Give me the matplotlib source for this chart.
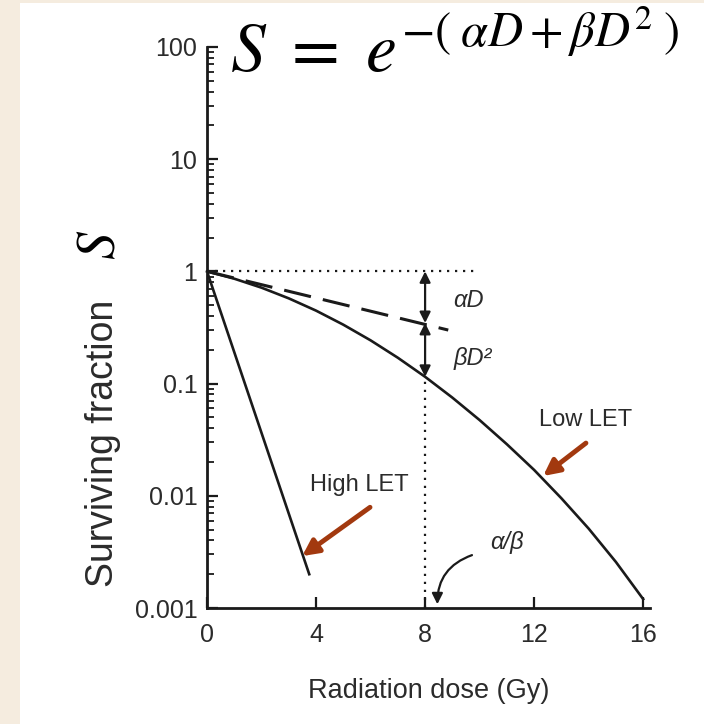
import numpy as np
import matplotlib
matplotlib.use("Agg")
import matplotlib.pyplot as plt
from matplotlib.patches import Rectangle
from matplotlib.ticker import LogLocator, NullFormatter, FixedLocator, FixedFormatter

plt.rcParams['font.family'] = ['Liberation Sans', 'DejaVu Sans']
plt.rcParams['mathtext.fontset'] = 'stix'

# low LET survival curve (dose in Gy, surviving fraction)
dose_low = [0, 1, 2, 3, 4, 5, 6, 7, 8, 9, 10, 11, 12, 13, 14, 15, 16]
surv_low = [1.0, 0.861, 0.716, 0.575, 0.447, 0.335, 0.243, 0.170, 0.115, 0.075,
            0.0473, 0.0288, 0.0170, 0.0095, 0.0051, 0.00257, 0.0012]

# high LET: straight line on the log scale
dose_high = [0, 3.75]
surv_high = [1.0, 0.002]

# single-hit (alpha) component
dose_alpha = [0, 8.85]
surv_alpha = [1.0, 0.30]

ab_dose = 8.0          # alpha/beta ratio
s_alpha_at_ab = 0.347  # dashed line at D = alpha/beta
s_curve_at_ab = 0.115  # curve at D = alpha/beta

yticks = [0.001, 0.01, 0.1, 1, 10, 100]
ytick_labels = ['0.001', '0.01', '0.1', '1', '10', '100']
xticks = [0, 4, 8, 12, 16]

txt = '#2b2b2b'
ink = '#1a1a1a'
brown = '#A2390F'

fig = plt.figure(figsize=(7.04, 7.24), dpi=100)
fig.patch.set_facecolor('white')
fig.add_artist(Rectangle((0, 0), 20 / 704, 1, transform=fig.transFigure,
                         color='#F5ECDF', lw=0, zorder=0))
fig.add_artist(Rectangle((0, 1 - 3 / 724), 1, 3 / 724, transform=fig.transFigure,
                         color='#F5ECDF', lw=0, zorder=0))

ax = fig.add_axes([207 / 704, 1 - 608 / 724, 443 / 704, 561 / 724])
ax.set_yscale('log')
ax.set_xlim(0, 16.25)
ax.set_ylim(0.001, 100)

ax.plot(dose_low, surv_low, color=ink, lw=1.9, solid_joinstyle='round', clip_on=False)
ax.plot(dose_high, surv_high, color=ink, lw=1.9)
ax.plot(dose_alpha, surv_alpha, color=ink, lw=2.2, dashes=(9, 4))
ax.plot([0, 9.95], [1, 1], color=ink, lw=1.6, linestyle=(0, (1, 2.6)))
ax.plot([ab_dose, ab_dose], [0.001, s_curve_at_ab], color=ink, lw=1.6,
        linestyle=(0, (1, 2.6)))

# alpha D and beta D^2 arrows
for y0, y1 in [(1.0, s_alpha_at_ab), (s_alpha_at_ab, s_curve_at_ab)]:
    ax.annotate('', xy=(ab_dose, y1), xytext=(ab_dose, y0),
                arrowprops=dict(arrowstyle='<|-|>', color=ink, lw=1.6,
                                mutation_scale=16, shrinkA=0, shrinkB=0))
ax.text(9.03, 0.556, 'αD', fontsize=17, style='italic', color=txt, va='center', ha='left')
ax.text(9.03, 0.169, 'βD²', fontsize=17, style='italic', color=txt, va='center', ha='left')

ax.text(13.87, 0.0474, 'Low LET', fontsize=17, color=txt, ha='center', va='center')
ax.text(5.58, 0.01247, 'High LET', fontsize=17, color=txt, ha='center', va='center')
ax.text(11.0, 0.00387, 'α/β', fontsize=17, style='italic', color=txt, ha='center', va='center')

ax.annotate('', xy=(12.33, 0.015), xytext=(13.9, 0.0295),
            arrowprops=dict(arrowstyle='-|>', color=brown, lw=3.5,
                            mutation_scale=24, shrinkA=0, shrinkB=0))
ax.annotate('', xy=(3.49, 0.0029), xytext=(5.98, 0.0079),
            arrowprops=dict(arrowstyle='-|>', color=brown, lw=3.5,
                            mutation_scale=24, shrinkA=0, shrinkB=0))
ax.annotate('', xy=(8.45, 0.00108), xytext=(9.72, 0.00296),
            arrowprops=dict(arrowstyle='-|>', color=ink, lw=1.6,
                            mutation_scale=16, shrinkA=0, shrinkB=0,
                            connectionstyle='arc3,rad=0.35'))

for s in ['top', 'right']:
    ax.spines[s].set_visible(False)
for s in ['left', 'bottom']:
    ax.spines[s].set_linewidth(2.0)
    ax.spines[s].set_color(ink)

ax.yaxis.set_major_locator(FixedLocator(yticks))
ax.yaxis.set_major_formatter(FixedFormatter(ytick_labels))
ax.yaxis.set_minor_locator(LogLocator(base=10, subs=np.arange(2, 10)))
ax.yaxis.set_minor_formatter(NullFormatter())
ax.set_xticks(xticks)
ax.tick_params(which='major', direction='in', length=8, width=1.6, color=ink,
               labelsize=18, labelcolor=txt, pad=7)
ax.tick_params(which='minor', direction='in', length=5, width=1.3, color=ink)
ax.tick_params(axis='x', pad=11)

ax.set_xlabel('Radiation dose (Gy)', fontsize=19.5, color=txt, labelpad=22)
fig.text(103 / 704, 1 - 443 / 724, 'Surviving fraction', fontsize=27, color=txt,
         rotation=90, ha='center', va='center')
fig.text(100 / 704, 1 - 245 / 724, r'$S$', fontsize=40, color='black',
         rotation=90, ha='center', va='center')
fig.text(230 / 704, 1 - 72 / 724, r'$S\ =\ e^{-(\;\alpha D+\beta D^{2}\;)}$',
         fontsize=50, color='black', ha='left', va='baseline')

fig.savefig('out.png', dpi=100, facecolor=fig.get_facecolor())
